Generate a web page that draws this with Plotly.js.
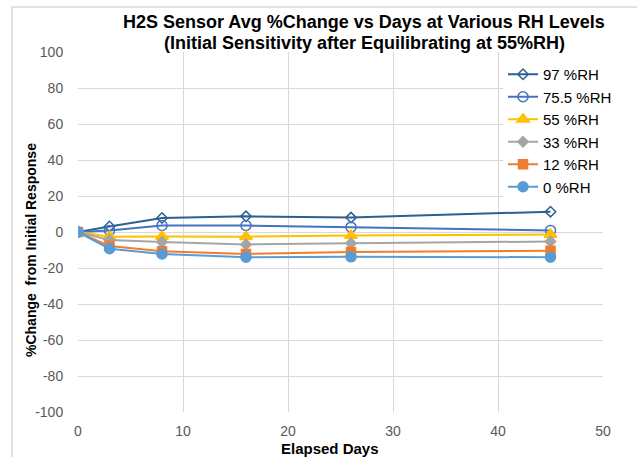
<!DOCTYPE html>
<html>
<head>
<meta charset="utf-8">
<script src="https://cdn.plot.ly/plotly-3.0.1.min.js"></script>
<style>html,body{margin:0;padding:0;background:#fff;}#chart{width:637px;height:457px;}</style>
</head>
<body>
<div id="chart"></div>
<script>
const days = [0, 3, 8, 16, 26, 45];
const seriesNames = ["97 %RH", "75.5 %RH", "55 %RH", "33 %RH", "12 %RH", "0 %RH"];
const rh97 = [0, 3.1, 7.8, 8.7, 8.0, 11.3];
const rh75 = [0, 0.9, 3.6, 3.6, 2.7, 0.9];
const rh55 = [0, -2.6, -2.5, -2.6, -2.0, -1.4];
const rh33 = [0, -4.5, -5.6, -6.9, -6.2, -5.3];
const rh12 = [0, -7.8, -10.7, -12.2, -11.1, -10.4];
const rh0 = [0, -9.3, -12.2, -14.0, -13.8, -14.0];
const xTicks = [0, 10, 20, 30, 40, 50];
const yTicks = [-100, -80, -60, -40, -20, 0, 20, 40, 60, 80, 100];
const titleLines = ["H2S Sensor Avg %Change vs Days at Various RH Levels", "(Initial Sensitivity after Equilibrating at 55%RH)"];
const xTitle = "Elapsed Days";
const yTitle = "%Change  from Initial Response";

const values = [rh97, rh75, rh55, rh33, rh12, rh0];
const colors = ["#2E5F90", "#4472C4", "#FFC000", "#A5A5A5", "#ED7D31", "#5B9BD5"];
const symbols = ["diamond-open", "circle-open", "triangle-up", "diamond", "square", "circle"];
const sizes = [8, 10, 11, 8, 9, 10];

const data = values.map((v, i) => ({
  x: days, y: v, name: seriesNames[i], type: "scatter", mode: "lines+markers",
  legendgroup: "g" + i,
  line: {color: colors[i], width: 2},
  marker: {symbol: symbols[i], size: sizes[i], color: colors[i], line: {color: colors[i], width: 1.5}}
}));

// plot area in pixels: left 78, right 603, top 52, bottom 412
const px = p => (p - 78) / 525;
const py = p => (412 - p) / 360;

const layout = {
  width: 637, height: 457,
  margin: {l: 78, r: 34, t: 52, b: 45},
  paper_bgcolor: "#fff", plot_bgcolor: "#fff",
  font: {family: "Liberation Sans, Arial, sans-serif", color: "#595959", size: 14},
  xaxis: {
    range: [0, 50], tickvals: xTicks, ticktext: xTicks.map(String),
    showgrid: true, gridcolor: "#D9D9D9", gridwidth: 1,
    zeroline: false, showline: false, ticks: "outside", ticklen: 6, tickcolor: "rgba(0,0,0,0)",
    tickfont: {size: 14, color: "#595959"}
  },
  yaxis: {
    range: [-100, 100], tickvals: yTicks, ticktext: yTicks.map(String),
    showgrid: true, gridcolor: "#D9D9D9", gridwidth: 1,
    zeroline: false, showline: false, ticks: "outside", ticklen: 11, tickcolor: "rgba(0,0,0,0)",
    tickfont: {size: 14, color: "#595959"}
  },
  legend: {
    x: px(503), y: py(58), xanchor: "left", yanchor: "top",
    bgcolor: "#fff", font: {size: 15, color: "#000"}, traceorder: "grouped", tracegroupgap: 0,
    itemwidth: 30
  },
  annotations: [
    {text: "<b>" + titleLines[0] + "</b>", xref: "paper", yref: "paper", x: px(364), y: py(22),
     xanchor: "center", yanchor: "middle", showarrow: false, font: {size: 18, color: "#000"}},
    {text: "<b>" + titleLines[1] + "</b>", xref: "paper", yref: "paper", x: px(364), y: py(43),
     xanchor: "center", yanchor: "middle", showarrow: false, font: {size: 18, color: "#000"}},
    {text: "<b>" + xTitle + "</b>", xref: "paper", yref: "paper", x: px(330), y: py(448),
     xanchor: "center", yanchor: "middle", showarrow: false, font: {size: 15, color: "#000"}},
    {text: "<b>" + yTitle + "</b>", xref: "paper", yref: "paper", x: px(31), y: py(250),
     xanchor: "center", yanchor: "middle", showarrow: false, textangle: -90, font: {size: 14, color: "#000"}}
  ],
  shapes: [{
    type: "rect", xref: "paper", yref: "paper",
    x0: px(12), x1: 1.3, y0: -0.3, y1: py(7),
    line: {color: "#D9D9D9", width: 1.5}, fillcolor: "rgba(0,0,0,0)", layer: "below"
  }]
};

Plotly.newPlot("chart", data, layout, {displayModeBar: false, staticPlot: true});
</script>
</body>
</html>
